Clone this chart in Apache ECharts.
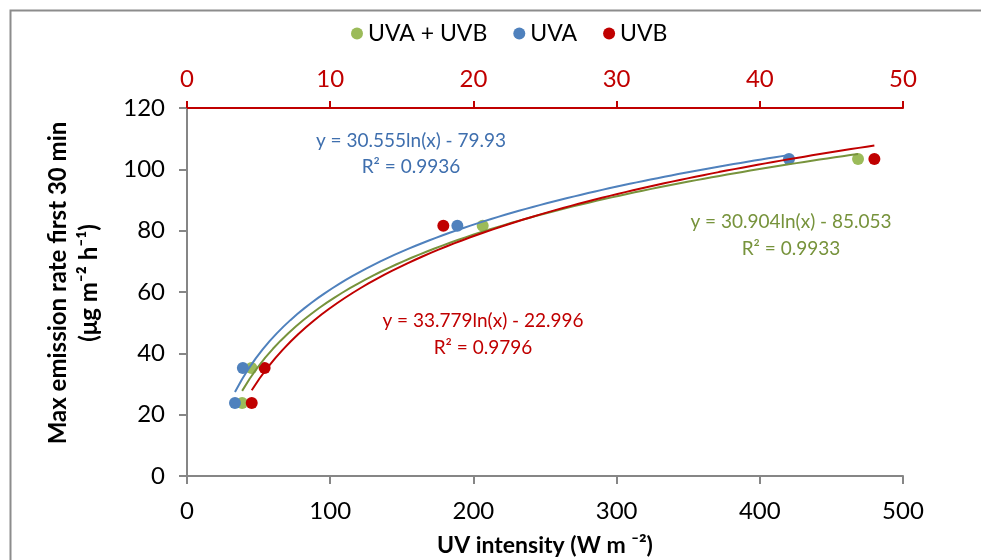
<!DOCTYPE html>
<html>
<head>
<meta charset="utf-8">
<script src="https://cdn.jsdelivr.net/npm/echarts@6/dist/echarts.min.js"></script>
<style>
  html, body { margin: 0; padding: 0; background: #fff; }
  #chart { width: 981px; height: 560px; }
</style>
</head>
<body>
<div id="chart"></div>
<script>
// measured points (x in W m-2, UVB on top axis 0-50)
const xUvaUvb = [38.5, 45, 206.5, 468.6];
const xUva = [33.5, 39, 188.8, 420.4];
const xUvb = [4.52, 5.42, 17.9, 48.0];
const yRate = [23.8, 35.2, 81.6, 103.4];

// trendline coefficients as printed on the chart: y = a ln(x) + b
const fitUvaUvb = [30.904, -85.053];
const fitUva = [30.555, -79.93];
const fitUvb = [33.779, -22.996];

const bottomTicks = [0, 100, 200, 300, 400, 500];
const topTicks = [0, 10, 20, 30, 40, 50];
const yTicks = [0, 20, 40, 60, 80, 100, 120];

const GREEN = '#9BBB59', BLUE = '#4F81BD', RED = '#C00000';
const GREEN_LINE = '#77933C';
const FONT = 'Lato';

function pairs(xs, ys) {
  return xs.map((x, i) => [x, ys[i]]);
}
// trendline from the printed fit, across the data's x range
function trend(fit, xs) {
  const lo = Math.min(...xs), hi = Math.max(...xs);
  const out = [];
  for (let i = 0; i <= 80; i++) {
    const x = lo + (hi - lo) * i / 80;
    out.push([x, fit[0] * Math.log(x) + fit[1]]);
  }
  return out;
}

const chart = echarts.init(document.getElementById('chart'));
chart.setOption({
  animation: false,
  textStyle: { fontFamily: FONT },
  grid: { left: 187, right: 78, top: 108, bottom: 84, containLabel: false, outerBoundsMode: 'none' },
  legend: {
    data: ['UVA + UVB', 'UVA', 'UVB'],
    left: 346, top: 17,
    icon: 'circle', itemWidth: 12, itemHeight: 12, itemGap: 26,
    textStyle: { fontSize: 23, color: '#000', fontFamily: FONT }
  },
  xAxis: [
    {
      type: 'value', position: 'bottom',
      min: bottomTicks[0], max: bottomTicks[bottomTicks.length - 1], interval: 100,
      name: 'UV intensity (W m \u207B\u00B2)',
      nameLocation: 'middle', nameGap: 58,
      nameTextStyle: { fontSize: 23, fontWeight: 'bold', color: '#000', fontFamily: FONT },
      axisLine: { show: true, onZero: false, lineStyle: { color: '#868686', width: 2 } },
      axisTick: { show: true, length: 8, lineStyle: { color: '#868686', width: 2 } },
      axisLabel: { fontSize: 24, color: '#000', margin: 23 },
      splitLine: { show: false }
    },
    {
      type: 'value', position: 'top',
      min: topTicks[0], max: topTicks[topTicks.length - 1], interval: 10,
      axisLine: { show: true, onZero: false, lineStyle: { color: RED, width: 2 } },
      axisTick: { show: true, length: 7, lineStyle: { color: RED, width: 2 } },
      axisLabel: { fontSize: 24, color: RED, margin: 17 },
      splitLine: { show: false }
    }
  ],
  yAxis: {
    type: 'value',
    min: yTicks[0], max: yTicks[yTicks.length - 1], interval: 20,
    axisLine: { show: true, lineStyle: { color: '#868686', width: 2 } },
    axisTick: { show: true, length: 8, lineStyle: { color: '#868686', width: 2 } },
    axisLabel: { fontSize: 24, color: '#000', margin: 22 },
    splitLine: { show: false }
  },
  graphic: [
    {
      type: 'rect', silent: true,
      shape: { x: 10.5, y: 10.5, width: 1000, height: 600 },
      style: { fill: 'none', stroke: '#8c8c8c', lineWidth: 2 }
    },
    {
      type: 'text', x: 74, y: 283, rotation: Math.PI / 2,
      style: {
        text: 'Max emission rate first 30 min\n(\u03BCg m\u207B\u00B2 h\u207B\u00B9)',
        textAlign: 'center', textVerticalAlign: 'middle',
        font: 'bold 24px ' + FONT, lineHeight: 31, fill: '#000'
      }
    },
    {
      type: 'text', x: 411, y: 154,
      style: { text: 'y = 30.555ln(x) - 79.93\nR\u00B2 = 0.9936', textAlign: 'center',
        textVerticalAlign: 'middle', font: '19px ' + FONT, lineHeight: 26, fill: '#3F6FAE' }
    },
    {
      type: 'text', x: 791, y: 235,
      style: { text: 'y = 30.904ln(x) - 85.053\nR\u00B2 = 0.9933', textAlign: 'center',
        textVerticalAlign: 'middle', font: '19px ' + FONT, lineHeight: 27, fill: GREEN_LINE }
    },
    {
      type: 'text', x: 483, y: 334,
      style: { text: 'y = 33.779ln(x) - 22.996\nR\u00B2 = 0.9796', textAlign: 'center',
        textVerticalAlign: 'middle', font: '19px ' + FONT, lineHeight: 27, fill: RED }
    }
  ],
  series: [
    {
      name: 'UVA + UVB', type: 'scatter', xAxisIndex: 0,
      data: pairs(xUvaUvb, yRate), symbolSize: 12,
      itemStyle: { color: GREEN, opacity: 1 }
    },
    {
      name: 'UVA', type: 'scatter', xAxisIndex: 0,
      data: pairs(xUva, yRate), symbolSize: 12,
      itemStyle: { color: BLUE, opacity: 1 }
    },
    {
      name: 'UVB', type: 'scatter', xAxisIndex: 1,
      data: pairs(xUvb, yRate), symbolSize: 12,
      itemStyle: { color: RED, opacity: 1 }
    },
    {
      name: 'UVA + UVB fit', type: 'line', xAxisIndex: 0,
      data: trend(fitUvaUvb, xUvaUvb), showSymbol: false, silent: true,
      lineStyle: { color: GREEN_LINE, width: 2 }
    },
    {
      name: 'UVA fit', type: 'line', xAxisIndex: 0,
      data: trend(fitUva, xUva), showSymbol: false, silent: true,
      lineStyle: { color: BLUE, width: 2 }
    },
    {
      name: 'UVB fit', type: 'line', xAxisIndex: 1,
      data: trend(fitUvb, xUvb), showSymbol: false, silent: true,
      lineStyle: { color: RED, width: 2 }
    }
  ]
});
</script>
</body>
</html>
